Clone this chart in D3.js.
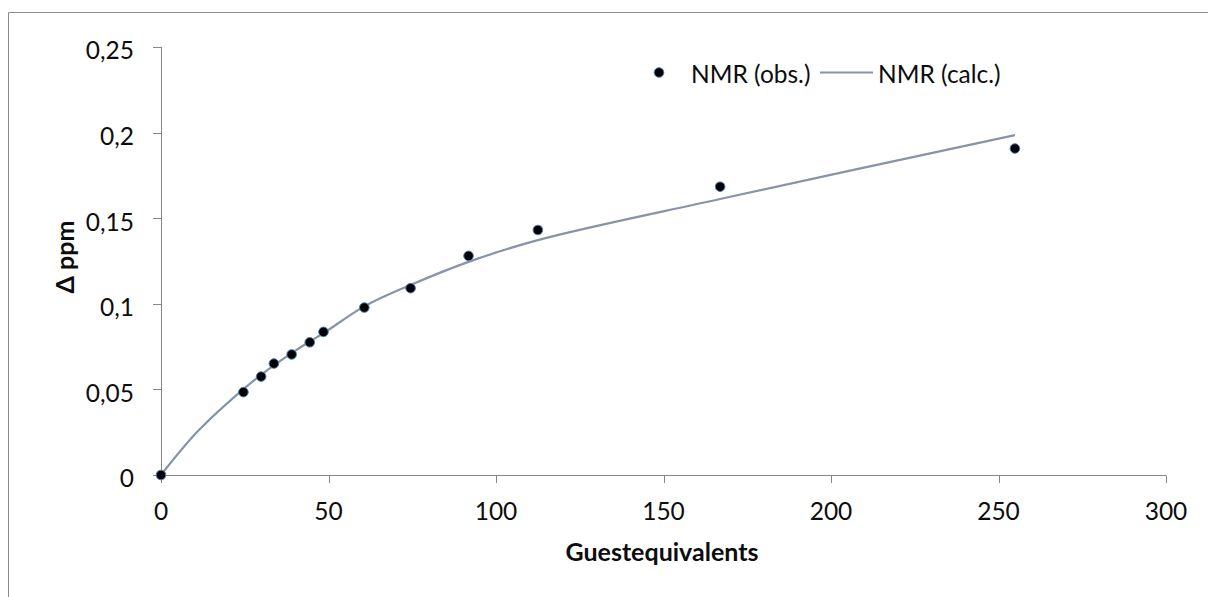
<!DOCTYPE html>
<html>
<head>
<meta charset="utf-8">
<script src="https://cdn.jsdelivr.net/npm/d3@7"></script>
<style>
  html, body { margin: 0; padding: 0; background: #ffffff; }
  svg { display: block; font-family: Lato, "Open Sans", sans-serif; }
</style>
</head>
<body>
<svg id="chart" width="1208" height="597"></svg>
<script>
// Titration: chemical shift change vs. guest equivalents
const guestEq    = [0, 24.6, 29.9, 33.7, 39.0, 44.4, 48.5, 60.7, 74.5, 91.8, 112.5, 166.9, 254.9];
const obsShift   = [0, 0.0484, 0.0575, 0.0651, 0.0704, 0.0775, 0.0836, 0.0978, 0.1091, 0.1280, 0.1431, 0.1684, 0.1907];
const calcEq     = [0, 11.1, 24.6, 29.9, 33.7, 39.0, 44.4, 48.5, 60.7, 74.5, 91.8, 112.5, 166.9, 254.9];
const calcShift  = [0, 0.0258, 0.0502, 0.0585, 0.0640, 0.0712, 0.0780, 0.0828, 0.0985, 0.1110, 0.1245, 0.1372, 0.1612, 0.1985];
const xTicks     = [0, 50, 100, 150, 200, 250, 300];
const yTicks     = [0, 0.05, 0.1, 0.15, 0.2, 0.25];
const seriesNames = ["NMR (obs.)", "NMR (calc.)"];
const xTitle = "Guestequivalents";
const yTitle = "Δ ppm";

const svg = d3.select("#chart");
const axisColor = "#868686";
const lineColor = "#8893a5";
const textColor = "#0d0d0d";
const fmt = d3.formatLocale({decimal: ",", thousands: ".", grouping: [3], currency: ["", ""]}).format("~g");

// chart frame
svg.append("path")
  .attr("d", "M8.5,597 L8.5,12.5 L1208,12.5")
  .attr("fill", "none").attr("stroke", "#8c8c8c").attr("stroke-width", 1);

const x = d3.scaleLinear().domain([0, 300]).range([161, 1166]);
const y = d3.scaleLinear().domain([0, 0.25]).range([475, 47]);

// y axis
const gy = svg.append("g");
gy.append("line").attr("x1", 161.5).attr("x2", 161.5).attr("y1", y(0.25)).attr("y2", y(0))
  .attr("stroke", axisColor);
gy.selectAll("line.t").data(yTicks).join("line").attr("class", "t")
  .attr("x1", 153).attr("x2", 161.5)
  .attr("y1", d => Math.round(y(d)) + 0.5).attr("y2", d => Math.round(y(d)) + 0.5)
  .attr("stroke", axisColor);
gy.selectAll("text").data(yTicks).join("text")
  .attr("x", 134).attr("y", d => y(d) + 12.3)
  .attr("text-anchor", "end").attr("font-size", 24.5).attr("fill", textColor)
  .text(d => fmt(d));

// x axis
const gx = svg.append("g");
gx.append("line").attr("x1", x(0)).attr("x2", x(300)).attr("y1", 475.5).attr("y2", 475.5)
  .attr("stroke", axisColor);
gx.selectAll("line.t").data(xTicks).join("line").attr("class", "t")
  .attr("x1", d => Math.round(x(d)) + 0.5).attr("x2", d => Math.round(x(d)) + 0.5)
  .attr("y1", 475.5).attr("y2", 483)
  .attr("stroke", axisColor);
gx.selectAll("text").data(xTicks).join("text")
  .attr("x", d => x(d)).attr("y", 520)
  .attr("text-anchor", "middle").attr("font-size", 24.5).attr("fill", textColor)
  .text(d => fmt(d));

// axis titles
svg.append("text").attr("x", 662).attr("y", 561)
  .attr("text-anchor", "middle").attr("font-size", 25).attr("font-weight", "bold")
  .attr("fill", textColor).text(xTitle);
svg.append("text").attr("transform", "translate(74,257) rotate(-90)")
  .attr("text-anchor", "middle").attr("font-size", 25).attr("font-weight", "bold")
  .attr("fill", textColor).text(yTitle);

// calculated curve
const calcData = calcEq.map((g, i) => [g, calcShift[i]]);
svg.append("path").datum(calcData)
  .attr("d", d3.line().x(d => x(d[0])).y(d => y(d[1])).curve(d3.curveCatmullRom.alpha(0.5)))
  .attr("fill", "none").attr("stroke", lineColor).attr("stroke-width", 2.2);

// observed points
const obsData = guestEq.map((g, i) => [g, obsShift[i]]);
svg.append("g").selectAll("circle").data(obsData).join("circle")
  .attr("cx", d => x(d[0])).attr("cy", d => y(d[1])).attr("r", 4.8)
  .attr("fill", "#000").attr("stroke", "#4a7ebb").attr("stroke-width", 1);

// legend
const lg = svg.append("g");
lg.append("circle").attr("cx", 659).attr("cy", 72.5).attr("r", 4.8)
  .attr("fill", "#000").attr("stroke", "#4a7ebb").attr("stroke-width", 1);
lg.append("text").attr("x", 691).attr("y", 83).attr("font-size", 24.5).attr("fill", textColor)
  .text(seriesNames[0]);
lg.append("line").attr("x1", 820).attr("x2", 873).attr("y1", 72.5).attr("y2", 72.5)
  .attr("stroke", lineColor).attr("stroke-width", 2.2);
lg.append("text").attr("x", 878).attr("y", 83).attr("font-size", 24.5).attr("fill", textColor)
  .text(seriesNames[1]);
</script>
</body>
</html>
